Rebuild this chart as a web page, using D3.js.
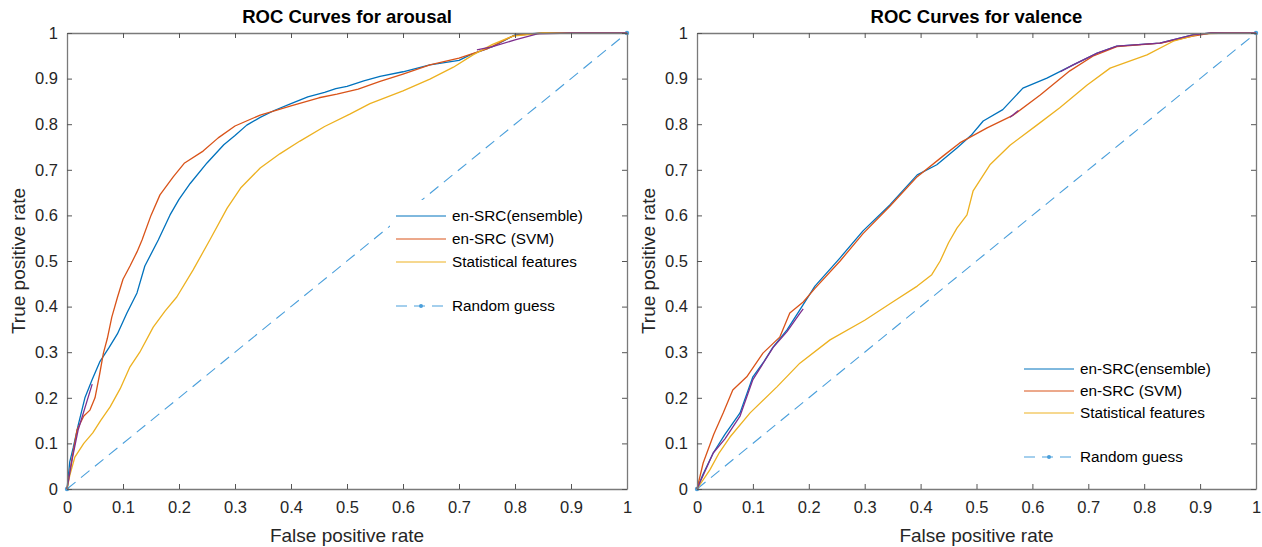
<!DOCTYPE html>
<html><head><meta charset="utf-8">
<script src="https://cdn.jsdelivr.net/npm/d3@7"></script>
<style>body{margin:0;background:#fff}svg{display:block}text{font-family:"Liberation Sans",Arial,sans-serif}</style>
</head><body>
<svg id="c" width="1262" height="547"></svg>
<script>
const tickValues = [0,0.1,0.2,0.3,0.4,0.5,0.6,0.7,0.8,0.9,1];
const tickLabels = ["0","0.1","0.2","0.3","0.4","0.5","0.6","0.7","0.8","0.9","1"];
const seriesNames = ["en-SRC(ensemble)","en-SRC (SVM)","Statistical features"];
const randomName = "Random guess";
const titles = ["ROC Curves for arousal","ROC Curves for valence"];
const xLabel = "False positive rate";
const yLabel = "True positive rate";
const randomGuess = [[0,0],[1,1]];

const arousalEnsemble = [[0,0],[0.005,0.06],[0.011,0.09],[0.02,0.14],[0.032,0.2],[0.045,0.24],[0.059,0.28],[0.075,0.31],[0.09,0.34],[0.107,0.386],[0.125,0.43],[0.139,0.489],[0.163,0.546],[0.184,0.601],[0.2,0.635],[0.22,0.67],[0.25,0.715],[0.28,0.755],[0.3,0.775],[0.321,0.798],[0.345,0.815],[0.37,0.83],[0.4,0.845],[0.43,0.86],[0.46,0.87],[0.48,0.878],[0.5,0.883],[0.53,0.895],[0.559,0.905],[0.6,0.915],[0.648,0.93],[0.7,0.94],[0.72,0.952],[0.76,0.97],[0.8,0.996],[0.85,1],[1,1]];
const arousalSVM = [[0,0],[0.008,0.06],[0.018,0.13],[0.03,0.16],[0.041,0.173],[0.05,0.2],[0.058,0.25],[0.065,0.298],[0.072,0.33],[0.08,0.377],[0.09,0.42],[0.1,0.46],[0.1125,0.489],[0.125,0.52],[0.134,0.546],[0.15,0.6],[0.166,0.645],[0.19,0.685],[0.21,0.715],[0.243,0.741],[0.27,0.77],[0.3,0.796],[0.345,0.82],[0.4,0.84],[0.45,0.858],[0.482,0.866],[0.52,0.877],[0.559,0.894],[0.6,0.91],[0.648,0.93],[0.7,0.945],[0.75,0.965],[0.79,0.99],[0.8,0.995],[0.85,1],[1,1]];
const arousalStat = [[0,0],[0.005,0.03],[0.014,0.07],[0.03,0.1],[0.046,0.123],[0.06,0.15],[0.077,0.18],[0.095,0.22],[0.1125,0.268],[0.13,0.3],[0.154,0.355],[0.175,0.39],[0.196,0.421],[0.225,0.48],[0.255,0.546],[0.286,0.616],[0.31,0.66],[0.345,0.704],[0.38,0.735],[0.416,0.763],[0.46,0.795],[0.505,0.822],[0.541,0.845],[0.6,0.873],[0.648,0.899],[0.69,0.925],[0.725,0.952],[0.76,0.975],[0.796,0.993],[0.85,1],[1,1]];
const arousalExtra = [
  [[0,0],[0.01,0.07],[0.02,0.13],[0.035,0.19],[0.045,0.23]],
  [[0.732,0.963],[0.76,0.97],[0.8,0.985],[0.84,0.998],[0.9,1],[1,1]]
];

const valenceEnsemble = [[0,0],[0.01,0.03],[0.029,0.079],[0.05,0.12],[0.077,0.167],[0.1,0.246],[0.12,0.28],[0.136,0.311],[0.161,0.349],[0.184,0.393],[0.211,0.445],[0.256,0.507],[0.297,0.566],[0.345,0.623],[0.394,0.689],[0.429,0.711],[0.465,0.748],[0.49,0.775],[0.512,0.807],[0.547,0.832],[0.583,0.879],[0.626,0.901],[0.673,0.93],[0.716,0.956],[0.751,0.971],[0.828,0.978],[0.887,0.996],[0.92,1],[1,1]];
const valenceSVM = [[0,0],[0.011,0.057],[0.03,0.12],[0.047,0.167],[0.064,0.217],[0.089,0.246],[0.118,0.298],[0.148,0.333],[0.166,0.386],[0.19,0.41],[0.211,0.44],[0.256,0.5],[0.297,0.56],[0.345,0.62],[0.394,0.685],[0.44,0.73],[0.47,0.759],[0.519,0.792],[0.566,0.82],[0.614,0.864],[0.667,0.917],[0.708,0.949],[0.751,0.97],[0.83,0.978],[0.887,0.993],[0.92,1],[1,1]];
const valenceStat = [[0,0],[0.023,0.042],[0.04,0.08],[0.059,0.114],[0.095,0.167],[0.143,0.224],[0.184,0.276],[0.238,0.327],[0.3,0.37],[0.35,0.41],[0.394,0.445],[0.42,0.47],[0.435,0.5],[0.45,0.54],[0.465,0.572],[0.483,0.601],[0.494,0.654],[0.524,0.711],[0.56,0.754],[0.608,0.798],[0.649,0.836],[0.698,0.886],[0.739,0.923],[0.805,0.952],[0.852,0.982],[0.9,0.998],[0.95,1],[1,1]];
const valenceExtra = [
  [[0,0],[0.029,0.079],[0.05,0.11],[0.077,0.16],[0.1,0.24],[0.136,0.31],[0.161,0.345],[0.184,0.385],[0.19,0.395]],
  [[0.56,0.815],[0.575,0.83]],
  [[0.65,0.915],[0.673,0.93],[0.716,0.956],[0.751,0.971],[0.828,0.978],[0.887,0.996],[0.92,1],[1,1]]
];

const colors = ["#0072BD","#D95319","#EDB120"];
const extraColor = "#7E2F8E";
const randomColor = "#4A9FDB";
const axisColor = "#262626";

const svg = d3.select("#c");

function panel(cfg){
  const x = d3.scaleLinear().domain([0,1]).range([cfg.x0, cfg.x1]);
  const y = d3.scaleLinear().domain([0,1]).range([489, 33]);
  const g = svg.append("g");
  const line = d3.line().x(d=>x(d[0])).y(d=>y(d[1]));

  g.append("path").datum(randomGuess).attr("d", line).attr("fill","none")
    .attr("stroke", randomColor).attr("stroke-width",1.1).attr("stroke-dasharray","11,7");
  g.selectAll(".rm").data(randomGuess).join("circle").attr("cx",d=>x(d[0])).attr("cy",d=>y(d[1]))
    .attr("r",2.2).attr("fill",randomColor);

  cfg.series.forEach((s,i)=>{
    g.append("path").datum(s).attr("d", line).attr("fill","none")
      .attr("stroke", colors[i]).attr("stroke-width",1.3).attr("stroke-linejoin","round");
  });
  cfg.extra.forEach(s=>{
    g.append("path").datum(s).attr("d", line).attr("fill","none")
      .attr("stroke", extraColor).attr("stroke-width",1.3).attr("stroke-linejoin","round");
  });

  const L = g.append("g").attr("transform",`translate(${cfg.lx},${cfg.ly})`);
  L.append("rect").attr("x",-6).attr("y",-16).attr("width",215).attr("height",cfg.lh).attr("fill","#fff");
  seriesNames.forEach((n,i)=>{
    const yy = i*cfg.ls;
    L.append("line").attr("x1",0).attr("x2",50).attr("y1",yy).attr("y2",yy).attr("stroke",colors[i]).attr("stroke-width",1);
    L.append("text").attr("x",56).attr("y",yy+5).attr("font-size",15.3).attr("fill","#000").text(n);
  });
  const ry = cfg.rg;
  L.append("line").attr("x1",0).attr("x2",50).attr("y1",ry).attr("y2",ry).attr("stroke",randomColor)
    .attr("stroke-width",1.1).attr("stroke-dasharray","11,7");
  L.append("circle").attr("cx",25).attr("cy",ry).attr("r",2).attr("fill",randomColor);
  L.append("text").attr("x",56).attr("y",ry+5).attr("font-size",15.3).attr("fill","#000").text(randomName);

  const fmt = (d,i)=>tickLabels[i];
  const ax = g.append("g").attr("transform","translate(0,489)")
    .call(d3.axisBottom(x).tickValues(tickValues).tickFormat(fmt).tickSizeInner(-5).tickSizeOuter(0).tickPadding(12));
  const axT = g.append("g").attr("transform","translate(0,33)")
    .call(d3.axisTop(x).tickValues(tickValues).tickFormat("").tickSizeInner(-5).tickSizeOuter(0));
  const ay = g.append("g").attr("transform",`translate(${cfg.x0},0)`)
    .call(d3.axisLeft(y).tickValues(tickValues).tickFormat(fmt).tickSizeInner(-5).tickSizeOuter(0).tickPadding(9));
  const ayR = g.append("g").attr("transform",`translate(${cfg.x1},0)`)
    .call(d3.axisRight(y).tickValues(tickValues).tickFormat("").tickSizeInner(-5).tickSizeOuter(0));
  [ax,axT,ay,ayR].forEach(a=>{
    a.select(".domain").attr("stroke","#7a7a7a").attr("stroke-width",1.3);
    a.selectAll(".tick line").attr("stroke","#555");
    a.selectAll("text").attr("font-size",16.5).attr("fill",axisColor).attr("font-family","'Liberation Sans',Arial,sans-serif");
  });

  svg.append("text").attr("x",(cfg.x0+cfg.x1)/2).attr("y",23).attr("text-anchor","middle")
    .attr("font-size",18.5).attr("font-weight","bold").attr("fill","#000").text(cfg.title);
  svg.append("text").attr("x",(cfg.x0+cfg.x1)/2).attr("y",542).attr("text-anchor","middle")
    .attr("font-size",19).attr("fill",axisColor).text(xLabel);
  svg.append("text").attr("transform",`translate(${cfg.x0-42},261) rotate(-90)`).attr("text-anchor","middle")
    .attr("font-size",19).attr("fill",axisColor).text(yLabel);
}

panel({x0:67,x1:627,title:titles[0],series:[arousalEnsemble,arousalSVM,arousalStat],extra:arousalExtra,
  lx:396,ly:216,ls:23,rg:90,lh:112});
panel({x0:697,x1:1256,title:titles[1],series:[valenceEnsemble,valenceSVM,valenceStat],extra:valenceExtra,
  lx:1024,ly:369,ls:22,rg:88,lh:110});
</script>
</body></html>
